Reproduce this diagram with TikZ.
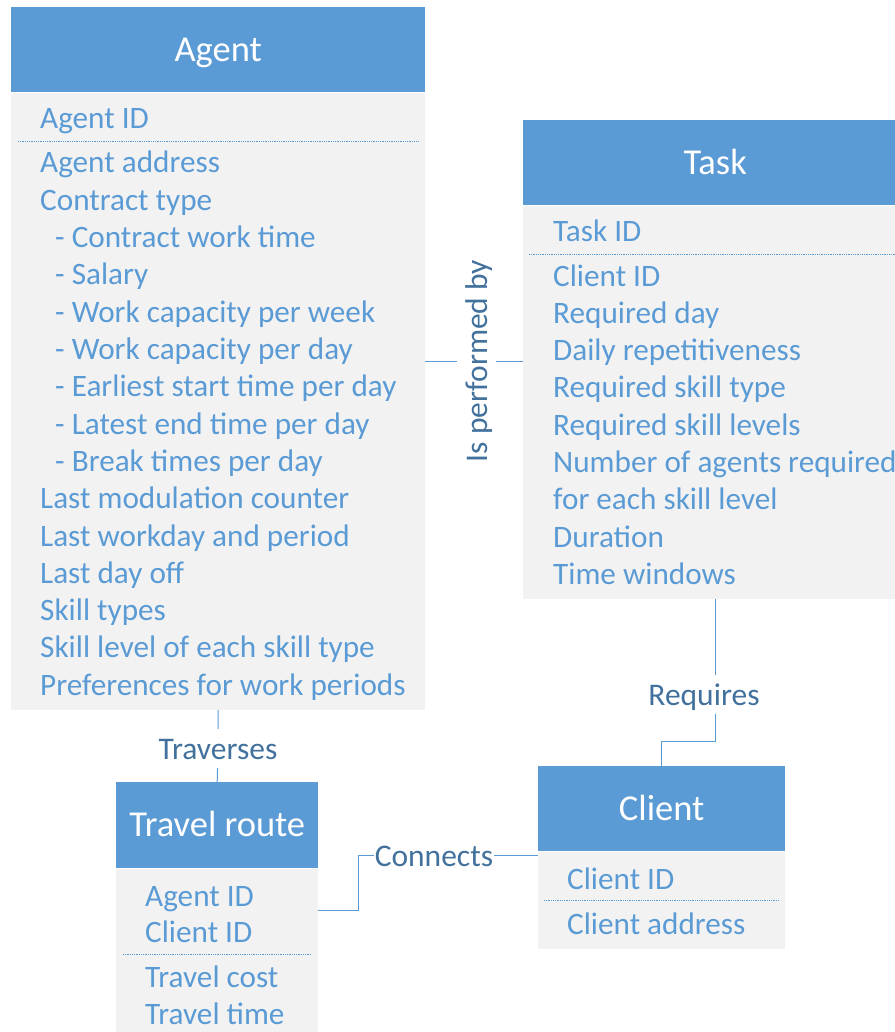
\documentclass[tikz,border=0pt]{standalone}
\usepackage{fontspec}
\setmainfont{Carlito}
\usepackage{tikz}
\definecolor{myblue}{HTML}{5B9BD5}
\definecolor{mydarkblue}{HTML}{41719C}
\definecolor{mygray}{HTML}{F2F2F2}

\begin{document}
\begin{tikzpicture}[x=1pt, y=-1pt]
    % Define styles for entities and relations
    \tikzstyle{head}=[fill=myblue, text=white, anchor=north west, inner sep=0pt, font=\fontsize{36.5}{44}\selectfont, text height=23pt, text depth=0pt]
    \tikzstyle{body}=[fill=mygray, anchor=north west, inner sep=0pt]
    \tikzstyle{attr}=[anchor=base west, inner sep=0pt, text=myblue, font=\fontsize{31.2}{37}\selectfont]
    \tikzstyle{keyline}=[myblue, densely dotted, line width=0.8pt]
    \tikzstyle{relation}=[anchor=base, text=mydarkblue, font=\fontsize{31.5}{37}\selectfont, text height=27pt, text depth=6pt, inner xsep=1pt, inner ysep=3pt]
    \tikzstyle{link}=[myblue, line width=1pt]

    \useasboundingbox (0,0) rectangle (894,1032);

    % Agent
    \node[head, minimum width=414pt, minimum height=85pt] (A-head) at (11,7) {Agent};
    \node[body, minimum width=414pt, minimum height=617pt] (A-body) at (A-head.south west) {};
    \node[attr] (A-0) at (40,129) {Agent ID};
    \draw[keyline] (18,141) -- (419,141);
    \foreach \x/\txt [count=\i] in {40/Agent address, 40/Contract type, 55/- Contract work time, 55/- Salary, 55/- Work capacity per week, 55/- Work capacity per day, 55/- Earliest start time per day, 55/- Latest end time per day, 55/- Break times per day, 40/Last modulation counter, 40/Last workday and period, 40/Last day off, 40/Skill types, 40/Skill level of each skill type, 40/Preferences for work periods} {
        \node[attr] (A-\i) at ({\x}, {135.7+37.3*\i}) {\txt};
    }

    % Task
    \node[head, minimum width=384pt, minimum height=85pt] (T-head) at (523,120) {Task};
    \node[body, minimum width=384pt, minimum height=393pt] (T-body) at (T-head.south west) {};
    \node[attr] (T-0) at (553,241) {Task ID};
    \draw[keyline] (529,254) -- (901,254);
    \foreach \txt [count=\i] in {Client ID, Required day, Daily repetitiveness, Required skill type, Required skill levels, Number of agents required, for each skill level, Duration, Time windows} {
        \node[attr] (T-\i) at (553, {248.7+37.3*\i}) {\txt};
    }

    % Client
    \node[head, minimum width=247pt, minimum height=85pt] (C-head) at (538,766) {Client};
    \node[body, minimum width=247pt, minimum height=97pt] (C-body) at (C-head.south west) {};
    \node[attr] (C-0) at (567,889) {Client ID};
    \draw[keyline] (544,900) -- (779,900);
    \node[attr] (C-1) at (567,934) {Client address};

    % Travel route
    \node[head, minimum width=202pt, minimum height=86pt] (TR-head) at (116,782) {Travel route};
    \node[body, minimum width=202pt, minimum height=164pt] (TR-body) at (TR-head.south west) {};
    \node[attr] (TR-0) at (145,906) {Agent ID};
    \node[attr] (TR-1) at (145,942) {Client ID};
    \draw[keyline] (123,954) -- (311,954);
    \node[attr] (TR-2) at (145,987) {Travel cost};
    \node[attr] (TR-3) at (145,1024) {Travel time};

    % Relations
    \node[relation, rotate=90] (perf) at (487,361) {Is performed by};
    \node[relation] (trav) at (218,759) {Traverses};
    \node[relation] (req) at (704,705) {Requires};
    \node[relation] (conn) at (434,866) {Connects};

    \draw[link] (A-body.east |- perf) -- (perf) -- (T-body.west |- perf);
    \draw[link] (A-body.south) -- (trav) -- (TR-head.north);
    \draw[link] (T-body.south) -- (req.north -| T-body.south);
    \draw[link] (req.south -| T-body.south) -- ++(0,27) -| (C-head.north);
    \draw[link] (TR-body.east |- 0,910) -- ++(40,0) |- (conn.west);
    \draw[link] (conn.east) -- (conn.east -| C-body.west);

\end{tikzpicture}
\end{document}
